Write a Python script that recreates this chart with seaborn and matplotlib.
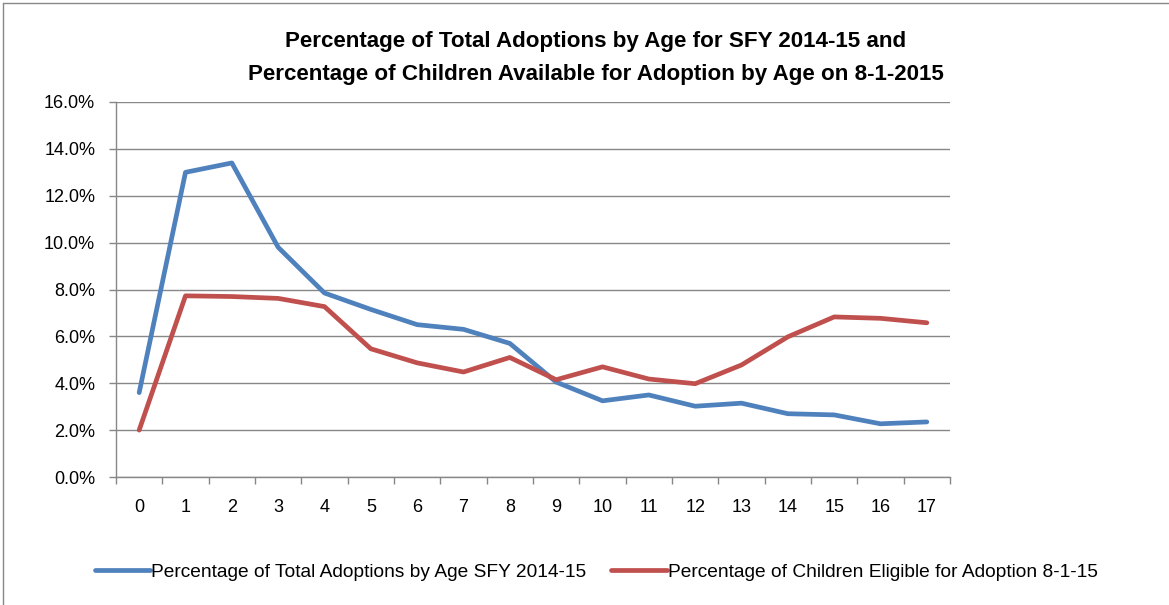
import matplotlib
matplotlib.use("Agg")
import matplotlib.pyplot as plt
import matplotlib.ticker as mticker
from matplotlib.lines import Line2D
import seaborn as sns
import pandas as pd

ages = list(range(18))
adoptions = [3.6, 13.0, 13.4, 9.8, 7.85, 7.15, 6.5, 6.3, 5.7, 4.05, 3.25, 3.5, 3.02, 3.15, 2.7, 2.65, 2.27, 2.35]
eligible = [2.0, 7.73, 7.7, 7.62, 7.27, 5.47, 4.87, 4.48, 5.1, 4.15, 4.7, 4.18, 3.98, 4.78, 5.98, 6.83, 6.77, 6.58]
series_names = ["Percentage of Total Adoptions by Age SFY 2014-15",
                "Percentage of Children Eligible for Adoption 8-1-15"]
colors = ["#4F81BD", "#C0504D"]
title = ("Percentage of Total Adoptions by Age for SFY 2014-15 and\n"
         "Percentage of Children Available for Adoption by Age on 8-1-2015")

df = pd.concat([
    pd.DataFrame({"age": ages, "value": adoptions, "series": series_names[0]}),
    pd.DataFrame({"age": ages, "value": eligible, "series": series_names[1]}),
])

sns.set_theme(style="white")
plt.rcParams['font.family'] = ['Liberation Sans', 'DejaVu Sans']
plt.rcParams['text.color'] = 'black'

W, H = 1169, 605
fig = plt.figure(figsize=(W / 100, H / 100), dpi=100)
ax = fig.add_axes([116 / W, 1 - 477 / H, (950 - 116) / W, (477 - 102) / H])

sns.lineplot(data=df, x="age", y="value", hue="series", palette=colors,
             linewidth=3.4, ax=ax, legend=False, solid_capstyle="round")

ax.set_xlim(-0.5, 17.5)
ax.set_ylim(0, 16)
ax.yaxis.set_major_locator(mticker.MultipleLocator(2))
ax.yaxis.set_major_formatter(mticker.FuncFormatter(lambda v, p: f"{v:.1f}%"))
ax.set_xticks(ages)
ax.set_xticklabels([str(a) for a in ages])
ax.set_xticks([a - 0.5 for a in range(19)], minor=True)
ax.tick_params(axis="x", which="major", length=0, labelsize=13, pad=16, labelcolor="black")
ax.tick_params(axis="x", which="minor", length=5, width=1, color="#878787", direction="out", bottom=True)
ax.tick_params(axis="y", which="major", length=5, width=1, color="#878787", direction="out", left=True,
               labelsize=13, pad=10, labelcolor="black")
ax.grid(axis="y", color="#878787", linewidth=1)
ax.set_axisbelow(True)
for s in ["top", "right"]:
    ax.spines[s].set_visible(False)
for s in ["left", "bottom"]:
    ax.spines[s].set_color("#878787")
    ax.spines[s].set_linewidth(1)
ax.set_xlabel("")
ax.set_ylabel("")

fig.text(596 / W, 1 - 58 / H, title, ha="center", va="center", fontsize=16.1,
         fontweight="bold", linespacing=1.72, color="black")

handles = [Line2D([0], [0], color=c, linewidth=3.4, solid_capstyle="round") for c in colors]
fig.legend(handles, series_names, loc="center", bbox_to_anchor=(596 / W, 1 - 572 / H),
           ncol=2, frameon=False, fontsize=13.8, handlelength=2.9, handletextpad=0.05,
           columnspacing=1.3, labelcolor="black")

fig.add_artist(Line2D([3 / W, 3 / W], [0, 1 - 3 / H], transform=fig.transFigure, color="#878787", linewidth=1))
fig.add_artist(Line2D([3 / W, 1], [1 - 3 / H, 1 - 3 / H], transform=fig.transFigure, color="#878787", linewidth=1))

fig.savefig("out.png", dpi=100)
